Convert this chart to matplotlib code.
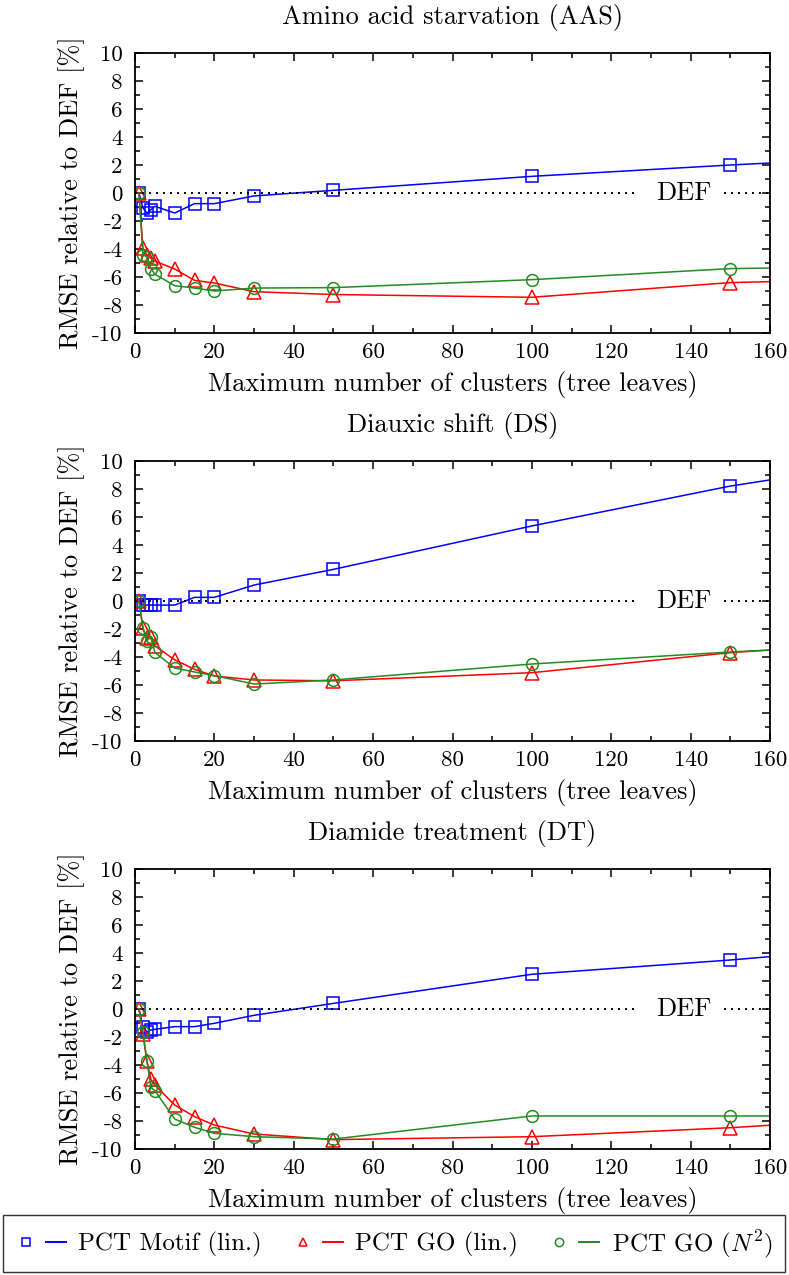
import matplotlib
matplotlib.use("Agg")
import matplotlib.pyplot as plt
from matplotlib.lines import Line2D
from matplotlib.legend_handler import HandlerTuple

plt.rcParams['font.family'] = 'cmr10'
plt.rcParams['mathtext.fontset'] = 'cm'
plt.rcParams['axes.unicode_minus'] = False
plt.rcParams['axes.formatter.use_mathtext'] = True

# ---------------- data ----------------
clusters = [1, 2, 3, 4, 5, 10, 15, 20, 30, 50, 100, 150, 200]

titles = ["Amino acid starvation (AAS)", "Diauxic shift (DS)", "Diamide treatment (DT)"]

aas_motif = [0, -1.07, -1.43, -1.19, -0.95, -1.43, -0.76, -0.76, -0.21, 0.19, 1.19, 2.0, 2.7]
aas_go_lin = [0, -3.95, -4.43, -4.65, -4.86, -5.43, -6.24, -6.43, -7.05, -7.25, -7.45, -6.4, -6.05]
aas_go_n2 = [0, -4.4, -4.57, -5.4, -5.8, -6.62, -6.79, -7.0, -6.79, -6.76, -6.19, -5.4, -5.2]

ds_motif = [0, -0.29, -0.29, -0.29, -0.29, -0.29, 0.26, 0.26, 1.14, 2.26, 5.36, 8.21, 10.4]
ds_go_lin = [0, -1.95, -2.67, -2.55, -3.2, -4.2, -4.88, -5.36, -5.64, -5.7, -5.12, -3.69, -2.75]
ds_go_n2 = [0, -1.9, -2.83, -2.55, -3.67, -4.79, -5.07, -5.33, -5.93, -5.64, -4.5, -3.64, -2.95]

dt_motif = [0, -1.26, -1.62, -1.5, -1.45, -1.26, -1.26, -1.02, -0.45, 0.4, 2.48, 3.5, 4.7]
dt_go_lin = [0, -1.81, -3.71, -5.02, -5.43, -6.86, -7.69, -8.29, -8.93, -9.33, -9.12, -8.48, -7.6]
dt_go_n2 = [0, -1.62, -3.69, -5.6, -5.83, -7.86, -8.45, -8.88, -9.12, -9.29, -7.64, -7.64, -7.64]

panels = [
    (aas_motif, aas_go_lin, aas_go_n2),
    (ds_motif, ds_go_lin, ds_go_n2),
    (dt_motif, dt_go_lin, dt_go_n2),
]

series_labels = ["PCT Motif (lin.)", "PCT GO (lin.)", "PCT GO ($N^2$)"]
series_colors = ["#0000ff", "#ff0000", "#228b22"]
series_markers = ["s", "^", "o"]
marker_sizes = [8, 9.5, 8.5]

x_ticks = [0, 20, 40, 60, 80, 100, 120, 140, 160]
y_ticks = [-10, -8, -6, -4, -2, 0, 2, 4, 6, 8, 10]

# ---------------- figure ----------------
W, H = 789, 1275
fig = plt.figure(figsize=(W / 100, H / 100), dpi=100)

frame_px = [(53, 333), (461, 741), (869, 1149)]
left_px, right_px = 135, 770

FS = 19      # axis labels, titles, DEF
FS_LEG = 18
FS_TK = 16.5 # tick labels

for i, (top, bot) in enumerate(frame_px):
    ax = fig.add_axes([left_px / W, 1 - bot / H, (right_px - left_px) / W, (bot - top) / H])
    for vals, col, mk, ms in zip(panels[i], series_colors, series_markers, marker_sizes):
        ax.plot(clusters, vals, color=col, lw=1.1, marker=mk, ms=ms,
                mfc='none', mec=col, mew=1.1, clip_on=True)
    # DEF reference line with key label
    ax.plot([0, 127], [0, 0], color='black', lw=1.4, ls=(0, (1, 2.6)))
    ax.plot([148.5, 160], [0, 0], color='black', lw=1.4, ls=(0, (1, 2.6)))
    ax.text(145.3, 0, "DEF", ha='right', va='center', fontsize=FS)

    ax.set_xlim(0, 160)
    ax.set_ylim(-10, 10)
    ax.set_xticks(x_ticks)
    ax.set_xticks(range(10, 160, 20), minor=True)
    ax.set_yticks(y_ticks)
    ax.set_yticks(range(-9, 10, 2), minor=True)
    ax.set_xticklabels([str(v) for v in x_ticks])
    ax.set_yticklabels([str(v) for v in y_ticks])
    ax.tick_params(which='both', direction='in', top=True, right=True, labelsize=FS_TK,
                   width=1.1, colors='black')
    ax.tick_params(which='major', length=6)
    ax.tick_params(axis='y', which='major', pad=9)
    ax.tick_params(axis='x', which='major', pad=7)
    ax.tick_params(which='minor', length=3.5)
    for s in ax.spines.values():
        s.set_linewidth(1.3)
    ax.set_title(titles[i], fontsize=FS, pad=21)
    ax.set_xlabel("Maximum number of clusters (tree leaves)", fontsize=FS, labelpad=6)
    ax.set_ylabel("RMSE relative to DEF [%]", fontsize=FS, labelpad=5)

# legend
handles = []
for col, mk in zip(series_colors, series_markers):
    m = Line2D([], [], ls='none', marker=mk, ms=6, mfc='none', mec=col, mew=1.1)
    l = Line2D([], [], color=col, lw=1.4)
    handles.append((m, l))
leg = fig.legend(handles, series_labels, loc='lower left',
                 bbox_to_anchor=(3 / W, 1 - 1272 / H, 782 / W, 60 / H), mode='expand',
                 ncol=3, fontsize=FS_LEG, frameon=True, fancybox=False, edgecolor='black',
                 handler_map={tuple: HandlerTuple(ndivide=None, pad=0.4)},
                 handlelength=2.0, handletextpad=0.5, columnspacing=0.8, borderpad=0.5,
                 borderaxespad=0)
leg.get_frame().set_linewidth(1.0)

fig.savefig("out.png", dpi=100)
